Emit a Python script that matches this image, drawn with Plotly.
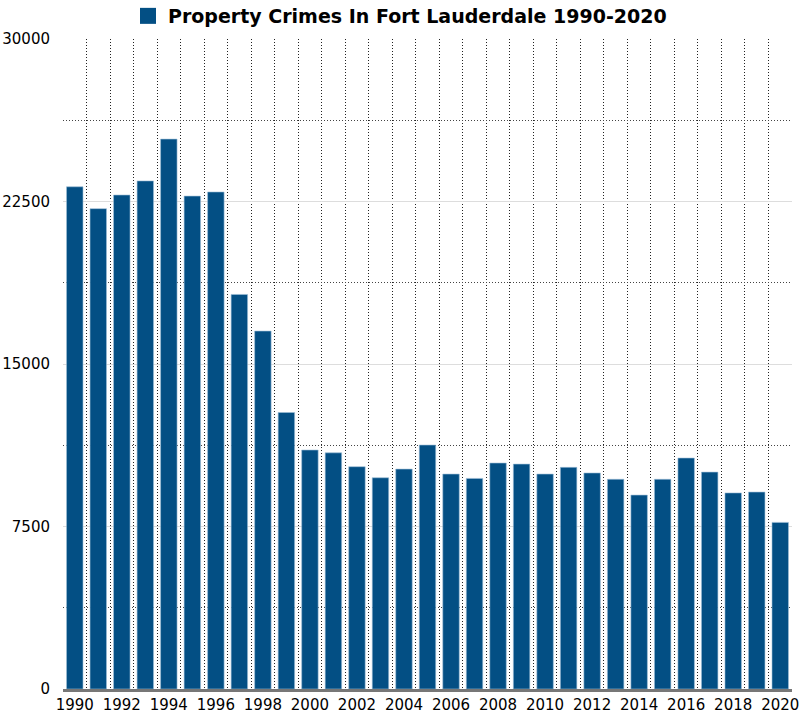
import plotly.graph_objects as go

years = list(range(1990, 2021))
crimes = [23180, 22170, 22800, 23450, 25380, 22750, 22940, 18210, 16520, 12760,
          11030, 10900, 10260, 9750, 10150, 11260, 9920, 9720, 10430, 10380,
          9920, 10230, 9970, 9680, 8950, 9680, 10660, 10010, 9050, 9090, 7690]
tick_years = list(range(1990, 2021, 2))
y_ticks = [0, 7500, 15000, 22500, 30000]
series_name = "Property Crimes In Fort Lauderdale 1990-2020"
bar_color = "#034f84"

fig = go.Figure()
fig.add_trace(go.Bar(
    x=years, y=crimes, name=series_name,
    marker=dict(color=bar_color, line=dict(color="#9fc0d8", width=0.6)),
    width=0.7, showlegend=False,
))
fig.add_trace(go.Scatter(
    x=[None], y=[None], name=series_name, mode="markers",
    marker=dict(symbol="square", size=20, color=bar_color),
    showlegend=True,
))

fig.update_layout(
    width=800, height=720,
    margin=dict(l=63, r=8, t=39, b=31, autoexpand=False),
    paper_bgcolor="white", plot_bgcolor="white",
    font=dict(family="DejaVu Sans, Verdana, sans-serif", size=15, color="black"),
    showlegend=True,
    legend=dict(orientation="h", xref="container", yref="paper",
                x=0.160, xanchor="left", y=1.0646, yanchor="top",
                font=dict(size=19, family="DejaVu Sans", weight="bold"),
                itemwidth=30, bgcolor="rgba(0,0,0,0)", itemsizing="trace"),
)
fig.update_xaxes(
    range=[1989.5, 2020.5], tickvals=tick_years, ticktext=[str(y) for y in tick_years],
    showgrid=False, zeroline=False, automargin=False,
    showline=True, linecolor="#777777", linewidth=3,
    ticks="", ticklen=0,
    minor=dict(tick0=1989.5, dtick=1, showgrid=True, gridcolor="#222222",
               griddash="1px,2px", gridwidth=1),
)
fig.update_yaxes(
    range=[0, 30000], tickvals=y_ticks, ticktext=[str(v) for v in y_ticks],
    showgrid=True, gridcolor="#dddddd", gridwidth=1, zeroline=False, automargin=False,
    ticks="", ticklabelstandoff=12,
    minor=dict(tick0=3750, dtick=7500, showgrid=True, gridcolor="#444444",
               griddash="1px,2px", gridwidth=1),
)

fig.write_html("out.html", config={"displayModeBar": False},
               post_script="document.body.style.margin='0';document.body.style.overflow='hidden';")
